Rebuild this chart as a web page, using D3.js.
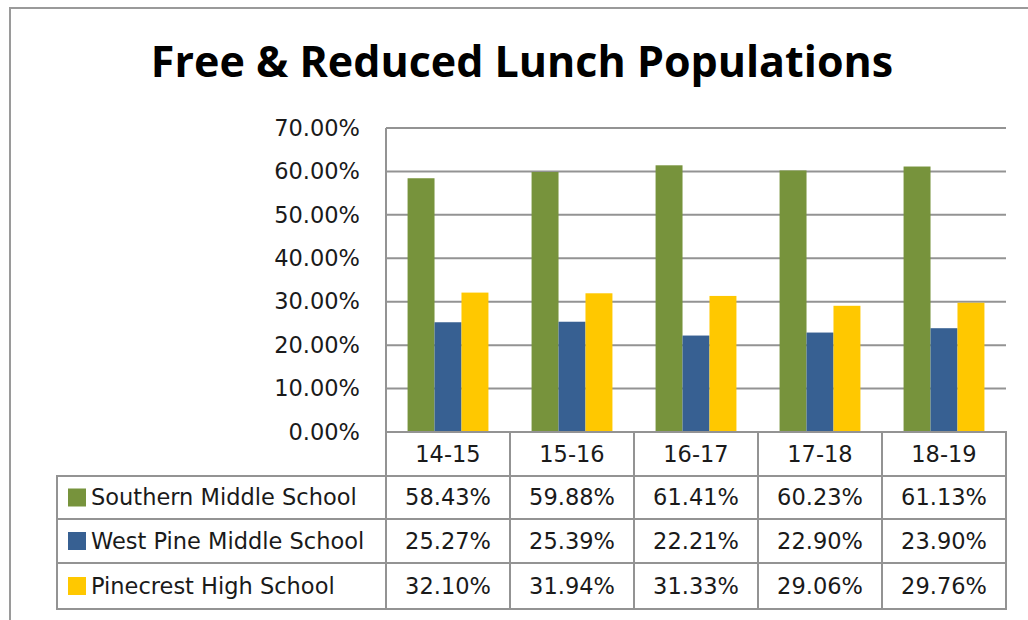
<!DOCTYPE html>
<html>
<head>
  <meta charset="utf-8">
  <title>Free & Reduced Lunch Populations</title>
  <script src="https://d3js.org/d3.v7.min.js"></script>
</head>

<style>
body { margin: 0; background: white; }
svg text { font-family: "DejaVu Sans", sans-serif; fill: #1a1a1a; }
</style>

<body>
</body>
<script>

  var categories = ["14-15", "15-16", "16-17", "17-18", "18-19"];
  var seriesNames = ["Southern Middle School", "West Pine Middle School", "Pinecrest High School"];
  var southern = [58.43, 59.88, 61.41, 60.23, 61.13];
  var westPine = [25.27, 25.39, 22.21, 22.90, 23.90];
  var pinecrest = [32.10, 31.94, 31.33, 29.06, 29.76];
  var yTicks = [0, 10, 20, 30, 40, 50, 60, 70];
  var colors = ["#77933c", "#376092", "#ffc800"];

  var seriesValues = [southern, westPine, pinecrest];

  var width = 1028, height = 620;
  var plot = {left: 386, right: 1006, top: 128, bottom: 432};
  var rowH = [44, 43, 44, 46]; // header row + 3 data rows
  var tableLeft = 57;
  var gridColor = "#939393";
  var labelSize = "22.5px";

  var svg = d3.select("body").append("svg")
    .attr("width", width)
    .attr("height", height);

  // outer chart border (clipped at right/bottom like the screenshot)
  svg.append("rect")
    .attr("x", 10).attr("y", 8)
    .attr("width", 1040).attr("height", 640)
    .attr("fill", "none")
    .attr("stroke", "#9a9a9a")
    .attr("stroke-width", 2);

  // title
  svg.append("text")
    .attr("x", 522).attr("y", 77)
    .attr("text-anchor", "middle")
    .style("font-family", "'Open Sans', sans-serif")
    .style("font-size", "43px")
    .style("font-weight", "bold")
    .style("fill", "#000")
    .text("Free & Reduced Lunch Populations");

  var xScale = d3.scaleBand()
    .domain(categories)
    .range([plot.left, plot.right]);

  var xInner = d3.scaleBand()
    .domain(seriesNames)
    .range([0, xScale.bandwidth()])
    .paddingOuter(0.8);

  var yScale = d3.scaleLinear()
    .domain([0, 70])
    .range([plot.bottom, plot.top]);

  // gridlines
  svg.append("g")
    .selectAll("line")
    .data(yTicks)
    .enter().append("line")
      .attr("x1", plot.left).attr("x2", plot.right)
      .attr("y1", function(d) { return yScale(d); })
      .attr("y2", function(d) { return yScale(d); })
      .attr("stroke", gridColor)
      .attr("stroke-width", 2);

  // y axis line
  svg.append("line")
    .attr("x1", plot.left).attr("x2", plot.left)
    .attr("y1", plot.top).attr("y2", plot.bottom)
    .attr("stroke", gridColor)
    .attr("stroke-width", 2);

  // y axis labels
  var yAxis = d3.axisLeft(yScale)
    .tickValues(yTicks)
    .tickSize(0)
    .tickPadding(26)
    .tickFormat(function(d) { return d.toFixed(2) + "%"; });

  var yG = svg.append("g")
    .attr("transform", "translate(" + plot.left + ",0)")
    .call(yAxis);
  yG.select(".domain").remove();
  yG.selectAll("text")
    .style("font-size", labelSize)
    .style("font-family", "'DejaVu Sans', sans-serif")
    .attr("fill", "#1a1a1a");

  // bars
  seriesNames.forEach(function(name, si) {
    svg.append("g")
      .selectAll("rect")
      .data(seriesValues[si])
      .enter().append("rect")
        .attr("x", function(d, i) { return xScale(categories[i]) + xInner(name); })
        .attr("y", function(d) { return yScale(d); })
        .attr("width", xInner.bandwidth())
        .attr("height", function(d) { return yScale(0) - yScale(d); })
        .attr("fill", colors[si]);
  });

  // data table
  var rowTops = [plot.bottom];
  rowH.forEach(function(h, i) { rowTops.push(rowTops[i] + h); });

  var table = svg.append("g");

  // header cells
  table.selectAll(".head")
    .data(categories)
    .enter().append("rect")
      .attr("class", "head")
      .attr("x", function(d) { return xScale(d); })
      .attr("y", rowTops[0])
      .attr("width", xScale.bandwidth())
      .attr("height", rowH[0])
      .attr("fill", "none")
      .attr("stroke", gridColor)
      .attr("stroke-width", 2);

  table.selectAll(".headText")
    .data(categories)
    .enter().append("text")
      .attr("class", "headText")
      .attr("x", function(d) { return xScale(d) + xScale.bandwidth() / 2; })
      .attr("y", rowTops[0] + rowH[0] / 2)
      .attr("dy", "0.35em")
      .attr("text-anchor", "middle")
      .style("font-size", labelSize)
      .text(function(d) { return d; });

  seriesNames.forEach(function(name, si) {
    var top = rowTops[si + 1], h = rowH[si + 1];
    var row = table.append("g");

    row.append("rect")
      .attr("x", tableLeft).attr("y", top)
      .attr("width", plot.left - tableLeft).attr("height", h)
      .attr("fill", "none")
      .attr("stroke", gridColor)
      .attr("stroke-width", 2);

    row.append("rect")
      .attr("x", 68).attr("y", top + h / 2 - 9)
      .attr("width", 18).attr("height", 18)
      .attr("fill", colors[si]);

    row.append("text")
      .attr("x", 91).attr("y", top + h / 2)
      .attr("dy", "0.35em")
      .style("font-size", labelSize)
      .text(name);

    row.selectAll(".cell")
      .data(seriesValues[si])
      .enter().append("rect")
        .attr("class", "cell")
        .attr("x", function(d, i) { return xScale(categories[i]); })
        .attr("y", top)
        .attr("width", xScale.bandwidth())
        .attr("height", h)
        .attr("fill", "none")
        .attr("stroke", gridColor)
        .attr("stroke-width", 2);

    row.selectAll(".val")
      .data(seriesValues[si])
      .enter().append("text")
        .attr("class", "val")
        .attr("x", function(d, i) { return xScale(categories[i]) + xScale.bandwidth() / 2; })
        .attr("y", top + h / 2)
        .attr("dy", "0.35em")
        .attr("text-anchor", "middle")
        .style("font-size", labelSize)
        .text(function(d) { return d.toFixed(2) + "%"; });
  });

</script>
</html>
